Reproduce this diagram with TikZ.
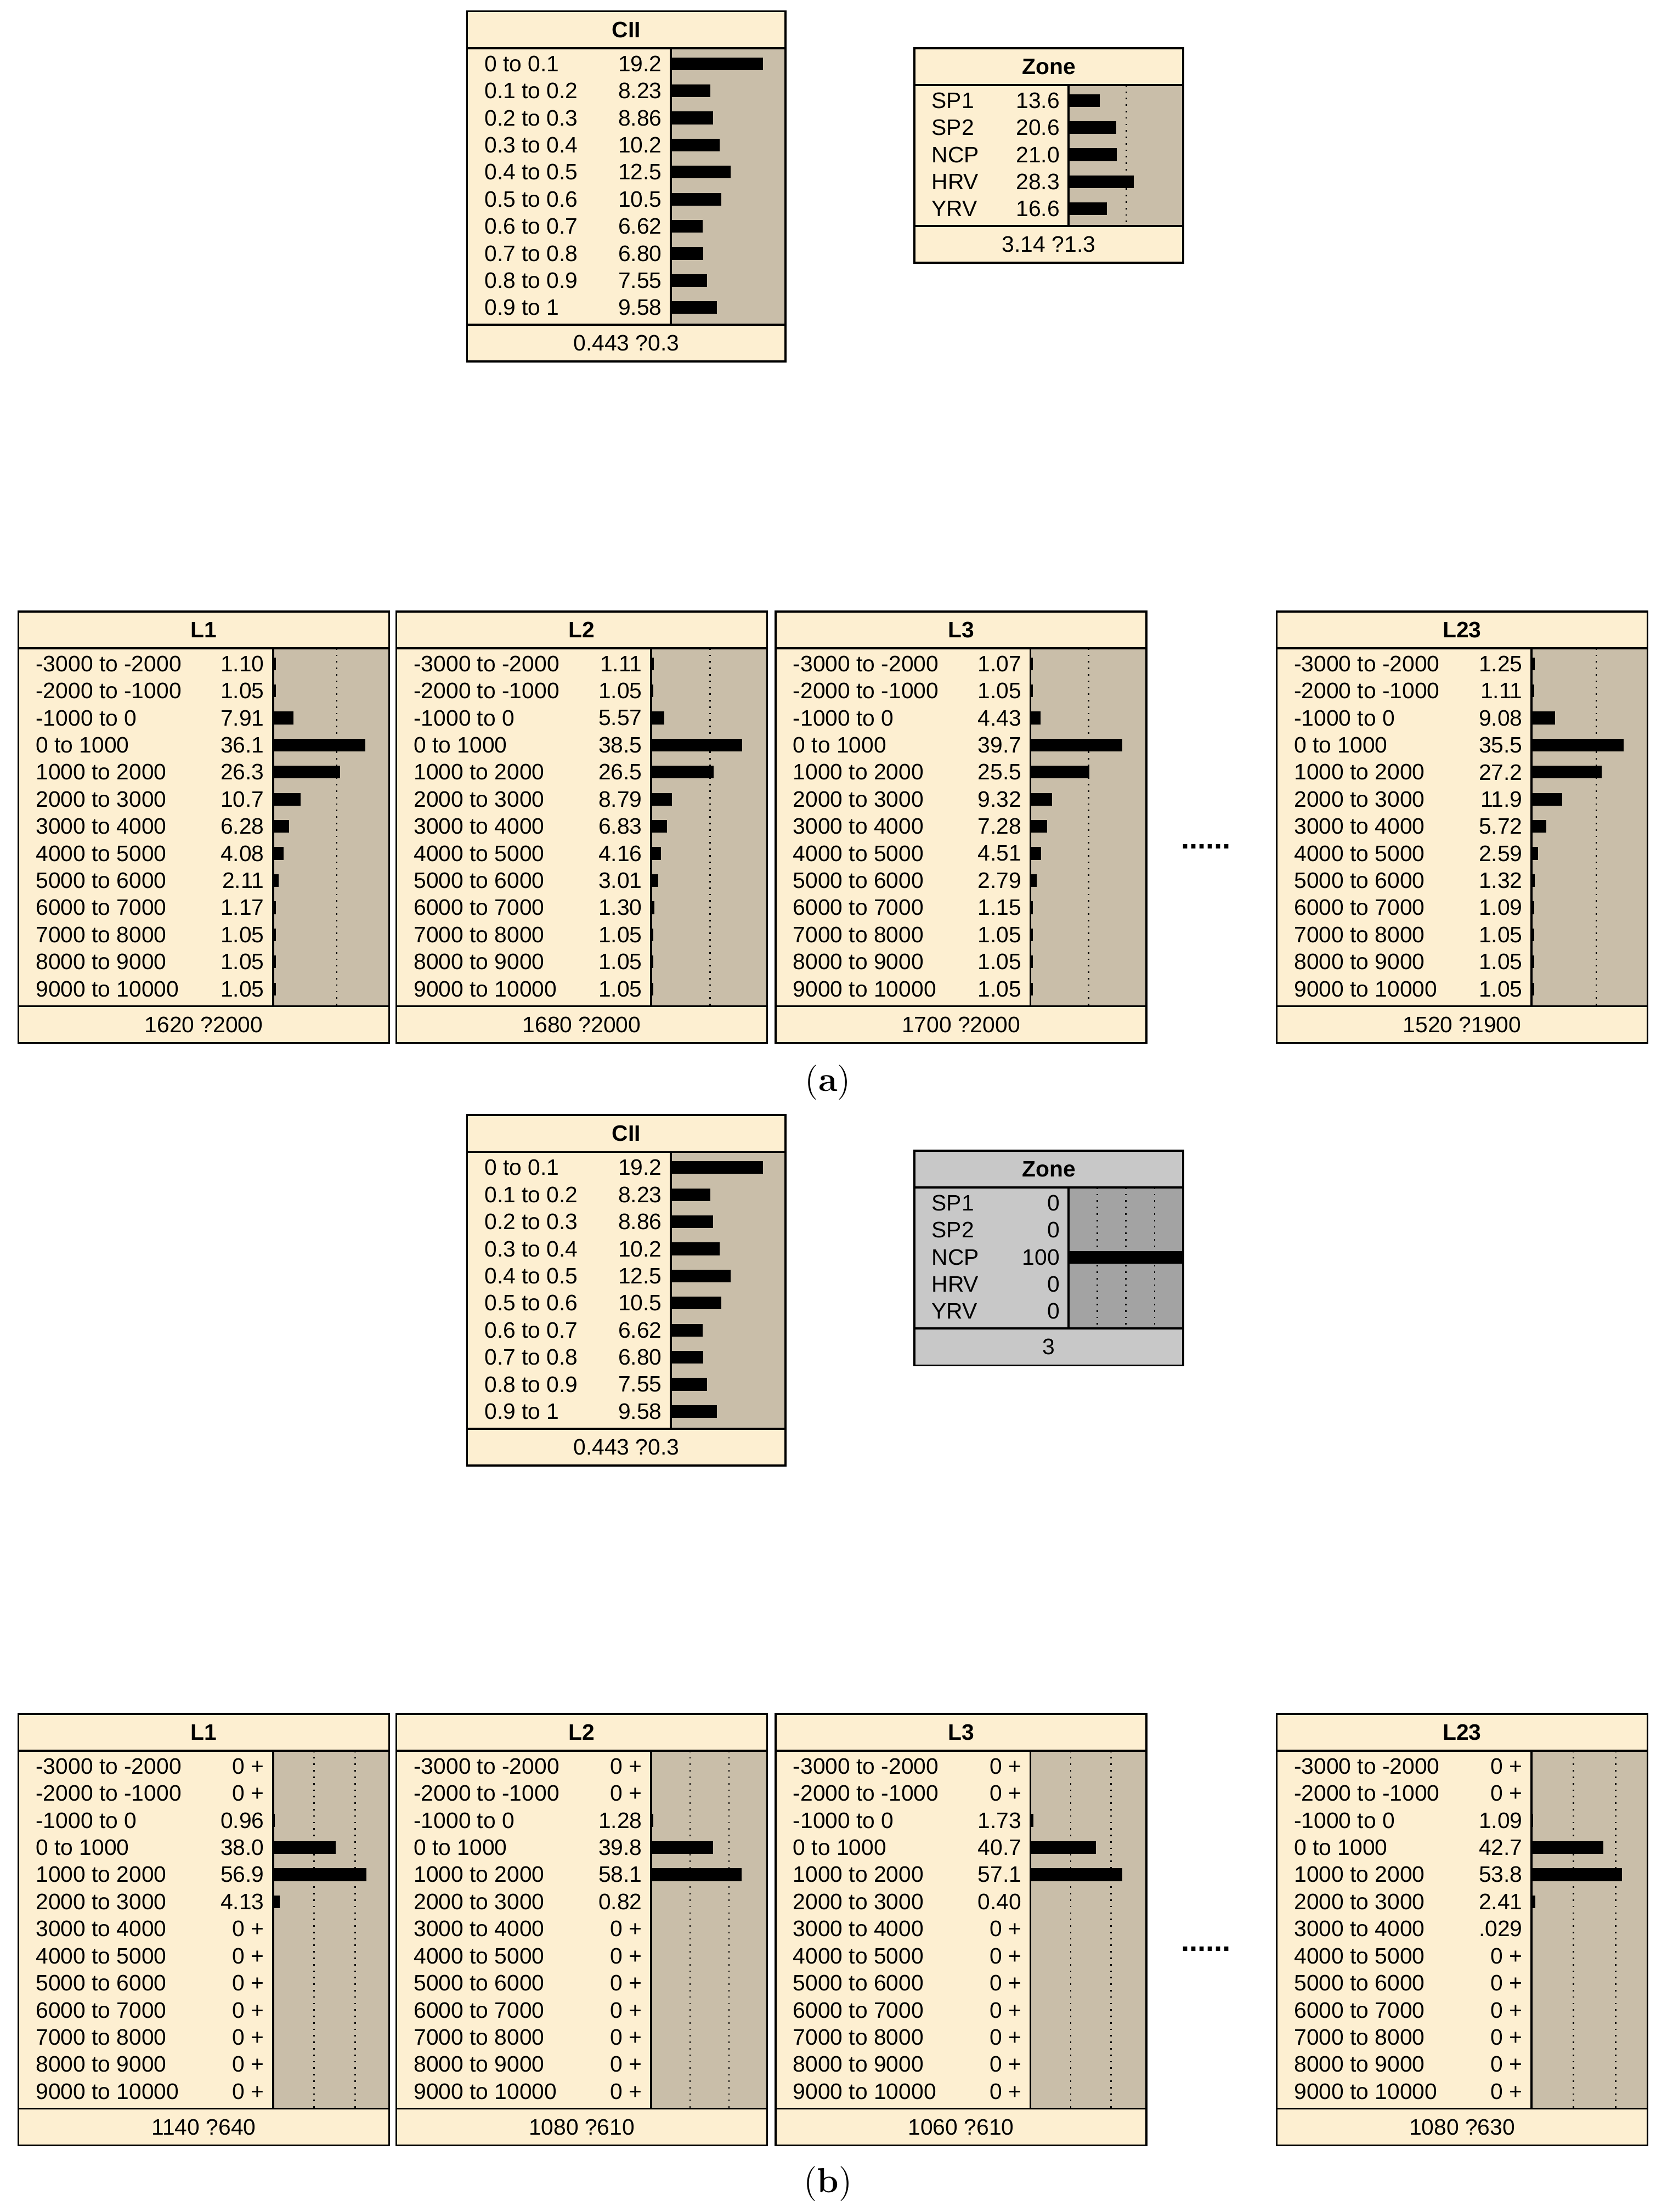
\documentclass[tikz,border=0pt]{standalone}
\usepackage{fontspec}
\setmainfont{Liberation Sans}
\newfontfamily\capfont{Latin Modern Roman}
\usetikzlibrary{arrows.meta,backgrounds}
\definecolor{bncream}{RGB}{253,239,209}
\definecolor{bntan}{RGB}{201,190,169}
\definecolor{bngray}{RGB}{200,200,200}
\definecolor{bndark}{RGB}{163,163,163}
\tikzset{
  edge/.style={line width=0.5pt,-{Stealth[length=7pt,width=4pt]}},
  rowtxt/.style={inner sep=0pt,font=\fontsize{9}{10}\selectfont},
  ttl/.style={inner sep=0pt,font=\fontsize{9}{10}\selectfont\bfseries},
  captxt/.style={inner sep=0pt,font=\capfont\fontsize{14}{16}\selectfont},
}
% #1 id, #2 title, #3 x, #4 width, #5 top, #6 rows, #7 area offset, #8 bar scale, #9 rows list
\newcommand{\bnnode}[9]{%
  \pgfmathsetmacro\bnyb{#5+26}
  \pgfmathsetmacro\bnyf{\bnyb+#6*19.15+4}
  \pgfmathsetmacro\bnye{\bnyf+26}
  \pgfmathsetmacro\bnxr{#3+#4}
  \pgfmathsetmacro\bnxa{#3+#7}
  \pgfmathsetmacro\bnaw{#4-#7}
  \fill[\bnfill] (#3,#5) rectangle (\bnxr,\bnye);
  \fill[\bnarea] (\bnxa,\bnyb) rectangle (\bnxr,\bnyf);
  \foreach \k in {1,2,3}{
    \pgfmathsetmacro\bndx{25*\k*#8}
    \pgfmathtruncatemacro\bnok{\bndx<\bnaw-3 ? 1 : 0}
    \ifnum\bnok=1
      \draw[dotted,line width=0.6pt] (\bnxa+\bndx,\bnyb) -- (\bnxa+\bndx,\bnyf);
    \fi
  }
  \foreach \lab/\val/\num [count=\i from 0] in {#9}{
    \pgfmathsetmacro\bnry{\bnyb+11+\i*19.15}
    \node[rowtxt,anchor=west] at (#3+12,\bnry) {\lab};
    \node[rowtxt,anchor=east] at (\bnxa-6,\bnry) {\val};
    \fill (\bnxa,\bnry-4.5) rectangle (\bnxa+\num*#8,\bnry+4.5);
  }
  \draw[line width=0.8pt] (\bnxa,\bnyb) -- (\bnxa,\bnyf);
  \draw[line width=0.8pt] (#3,\bnyb) -- (\bnxr,\bnyb) (#3,\bnyf) -- (\bnxr,\bnyf);
  \node[ttl] at (#3+#4/2,#5+13) {#2};
  \node[rowtxt] at (#3+#4/2,\bnyf+13) {\bnfoot};
  \pgfmathsetmacro\bnhh{\bnye-#5}
  \node[draw,line width=0.8pt,inner sep=0pt,outer sep=0pt,anchor=north west,
    minimum width=#4*0.02cm,minimum height=\bnhh*0.02cm] (#1) at (#3,#5) {};
}
% connectors of one panel, #1 = prefix
\newcommand{\bnedges}[1]{%
  \begin{pgfonlayer}{background}
    \draw[edge] ([shift={(32,0)}]#1-CII.south west) -- ([shift={(234,0)}]#1-L1.north west);
    \draw[edge] ([shift={(105,0)}]#1-CII.south west) -- ([shift={(141,0)}]#1-L2.north west);
    \draw[edge] ([shift={(179,0)}]#1-CII.south west) -- ([shift={(52,0)}]#1-L3.north west);
    \draw[edge] ([shift={(0,212)}]#1-CII.north east) -- ([shift={(0,51)}]#1-L23.north west);
    \draw[edge] ([shift={(-1,0)}]#1-Zone.south west) -- ([shift={(2,48)}]#1-L1.north east);
    \draw[edge] ([shift={(44,0)}]#1-Zone.south west) -- ([shift={(240,0)}]#1-L2.north west);
    \draw[edge] ([shift={(87,0)}]#1-Zone.south west) -- ([shift={(152,0)}]#1-L3.north west);
    \draw[edge] ([shift={(141,0)}]#1-Zone.south west) -- ([shift={(38,0)}]#1-L23.north west);
  \end{pgfonlayer}
}
\def\bnfill{bncream}\def\bnarea{bntan}
\begin{document}
\begin{tikzpicture}[x=0.02cm,y=-0.02cm]
\fill[white] (0,0) rectangle (1170,1563);
\useasboundingbox (0,0) rectangle (1170,1563);

% ---------- panel (a) ----------
\def\bnfill{bncream}\def\bnarea{bntan}
\def\bnfoot{0.443 ?0.3}
\bnnode{a-CII}{CII}{330}{225}{8}{10}{144}{3.38}{0 to 0.1/19.2/19.2,0.1 to 0.2/8.23/8.23,0.2 to 0.3/8.86/8.86,0.3 to 0.4/10.2/10.2,0.4 to 0.5/12.5/12.5,0.5 to 0.6/10.5/10.5,0.6 to 0.7/6.62/6.62,0.7 to 0.8/6.80/6.80,0.8 to 0.9/7.55/7.55,0.9 to 1/9.58/9.58}
\def\bnfoot{3.14 ?1.3}
\bnnode{a-Zone}{Zone}{646}{190}{34}{5}{109}{1.63}{SP1/13.6/13.6,SP2/20.6/20.6,NCP/21.0/21.0,HRV/28.3/28.3,YRV/16.6/16.6}
\def\bnfoot{1620 ?2000}
\bnnode{a-L1}{L1}{13}{262}{432}{13}{180}{1.8}{-3000 to -2000/1.10/1.10,-2000 to -1000/1.05/1.05,-1000 to 0/7.91/7.91,0 to 1000/36.1/36.1,1000 to 2000/26.3/26.3,2000 to 3000/10.7/10.7,3000 to 4000/6.28/6.28,4000 to 5000/4.08/4.08,5000 to 6000/2.11/2.11,6000 to 7000/1.17/1.17,7000 to 8000/1.05/1.05,8000 to 9000/1.05/1.05,9000 to 10000/1.05/1.05}
\def\bnfoot{1680 ?2000}
\bnnode{a-L2}{L2}{280}{262}{432}{13}{180}{1.67}{-3000 to -2000/1.11/1.11,-2000 to -1000/1.05/1.05,-1000 to 0/5.57/5.57,0 to 1000/38.5/38.5,1000 to 2000/26.5/26.5,2000 to 3000/8.79/8.79,3000 to 4000/6.83/6.83,4000 to 5000/4.16/4.16,5000 to 6000/3.01/3.01,6000 to 7000/1.30/1.30,7000 to 8000/1.05/1.05,8000 to 9000/1.05/1.05,9000 to 10000/1.05/1.05}
\def\bnfoot{1700 ?2000}
\bnnode{a-L3}{L3}{548}{262}{432}{13}{180}{1.64}{-3000 to -2000/1.07/1.07,-2000 to -1000/1.05/1.05,-1000 to 0/4.43/4.43,0 to 1000/39.7/39.7,1000 to 2000/25.5/25.5,2000 to 3000/9.32/9.32,3000 to 4000/7.28/7.28,4000 to 5000/4.51/4.51,5000 to 6000/2.79/2.79,6000 to 7000/1.15/1.15,7000 to 8000/1.05/1.05,8000 to 9000/1.05/1.05,9000 to 10000/1.05/1.05}
\def\bnfoot{1520 ?1900}
\bnnode{a-L23}{L23}{902}{262}{432}{13}{180}{1.83}{-3000 to -2000/1.25/1.25,-2000 to -1000/1.11/1.11,-1000 to 0/9.08/9.08,0 to 1000/35.5/35.5,1000 to 2000/27.2/27.2,2000 to 3000/11.9/11.9,3000 to 4000/5.72/5.72,4000 to 5000/2.59/2.59,5000 to 6000/1.32/1.32,6000 to 7000/1.09/1.09,7000 to 8000/1.05/1.05,8000 to 9000/1.05/1.05,9000 to 10000/1.05/1.05}
\bnedges{a}
\node[inner sep=0pt,font=\bfseries\large] (a-dots) at (852,598) {......};
\node[captxt] (a-cap) at (585,765) {(\textbf{a})};

% ---------- panel (b) ----------
\def\bnfoot{0.443 ?0.3}
\bnnode{b-CII}{CII}{330}{225}{788}{10}{144}{3.38}{0 to 0.1/19.2/19.2,0.1 to 0.2/8.23/8.23,0.2 to 0.3/8.86/8.86,0.3 to 0.4/10.2/10.2,0.4 to 0.5/12.5/12.5,0.5 to 0.6/10.5/10.5,0.6 to 0.7/6.62/6.62,0.7 to 0.8/6.80/6.80,0.8 to 0.9/7.55/7.55,0.9 to 1/9.58/9.58}
\def\bnfill{bngray}\def\bnarea{bndark}
\def\bnfoot{3}
\bnnode{b-Zone}{Zone}{646}{190}{813}{5}{109}{0.81}{SP1/0/0,SP2/0/0,NCP/100/100,HRV/0/0,YRV/0/0}
\def\bnfill{bncream}\def\bnarea{bntan}
\def\bnfoot{1140 ?640}
\bnnode{b-L1}{L1}{13}{262}{1211}{13}{180}{1.16}{-3000 to -2000/0 +/0,-2000 to -1000/0 +/0,-1000 to 0/0.96/0.96,0 to 1000/38.0/38.0,1000 to 2000/56.9/56.9,2000 to 3000/4.13/4.13,3000 to 4000/0 +/0,4000 to 5000/0 +/0,5000 to 6000/0 +/0,6000 to 7000/0 +/0,7000 to 8000/0 +/0,8000 to 9000/0 +/0,9000 to 10000/0 +/0}
\def\bnfoot{1080 ?610}
\bnnode{b-L2}{L2}{280}{262}{1211}{13}{180}{1.1}{-3000 to -2000/0 +/0,-2000 to -1000/0 +/0,-1000 to 0/1.28/1.28,0 to 1000/39.8/39.8,1000 to 2000/58.1/58.1,2000 to 3000/0.82/0.82,3000 to 4000/0 +/0,4000 to 5000/0 +/0,5000 to 6000/0 +/0,6000 to 7000/0 +/0,7000 to 8000/0 +/0,8000 to 9000/0 +/0,9000 to 10000/0 +/0}
\def\bnfoot{1060 ?610}
\bnnode{b-L3}{L3}{548}{262}{1211}{13}{180}{1.14}{-3000 to -2000/0 +/0,-2000 to -1000/0 +/0,-1000 to 0/1.73/1.73,0 to 1000/40.7/40.7,1000 to 2000/57.1/57.1,2000 to 3000/0.40/0.40,3000 to 4000/0 +/0,4000 to 5000/0 +/0,5000 to 6000/0 +/0,6000 to 7000/0 +/0,7000 to 8000/0 +/0,8000 to 9000/0 +/0,9000 to 10000/0 +/0}
\def\bnfoot{1080 ?630}
\bnnode{b-L23}{L23}{902}{262}{1211}{13}{180}{1.19}{-3000 to -2000/0 +/0,-2000 to -1000/0 +/0,-1000 to 0/1.09/1.09,0 to 1000/42.7/42.7,1000 to 2000/53.8/53.8,2000 to 3000/2.41/2.41,3000 to 4000/.029/0.029,4000 to 5000/0 +/0,5000 to 6000/0 +/0,6000 to 7000/0 +/0,7000 to 8000/0 +/0,8000 to 9000/0 +/0,9000 to 10000/0 +/0}
\bnedges{b}
\node[inner sep=0pt,font=\bfseries\large] (b-dots) at (852,1377) {......};
\node[captxt] (b-cap) at (585,1543) {(\textbf{b})};
\end{tikzpicture}
\end{document}
